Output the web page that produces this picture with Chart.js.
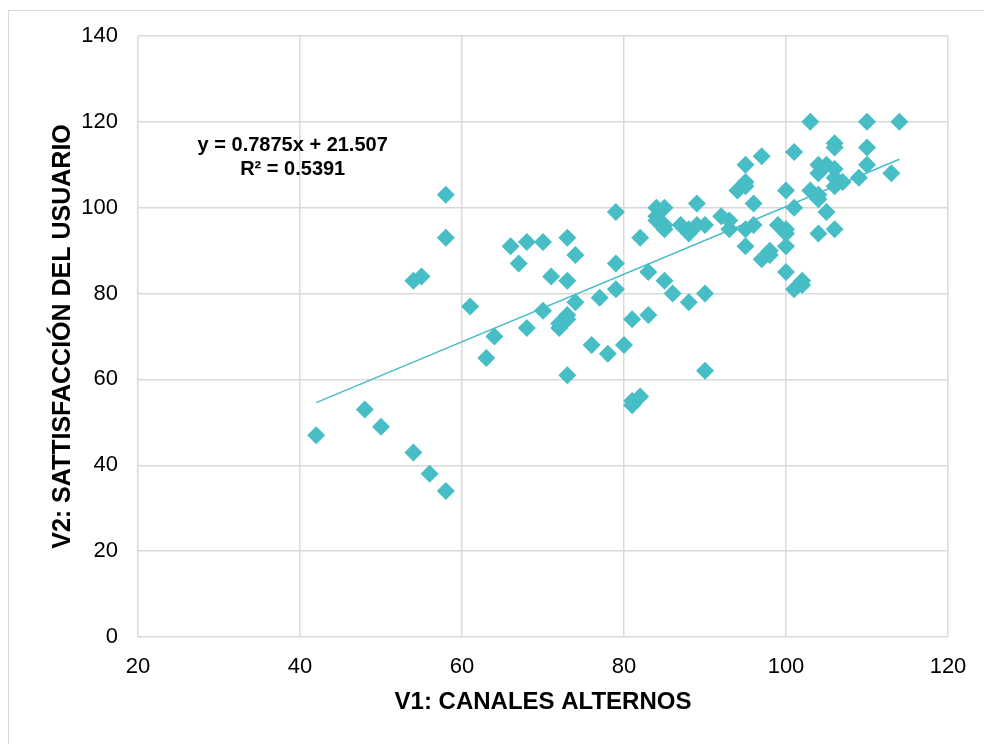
<!DOCTYPE html>
<html>
<head>
<meta charset="utf-8">
<title>V1 vs V2</title>
<script src="https://cdn.jsdelivr.net/npm/chart.js@4.4.1/dist/chart.umd.min.js"></script>
<style>
  html, body { margin: 0; padding: 0; background: #fff; }
  #frame {
    position: absolute; left: 8px; top: 10px; width: 990px; height: 750px;
    border: 1px solid #d9d9d9; box-sizing: border-box;
  }
  #wrap { position: absolute; left: 0; top: 0; width: 984px; height: 744px; }
</style>
</head>
<body>
<div id="frame"></div>
<div id="wrap"><canvas id="scatterChart" width="984" height="744"></canvas></div>
<script>
// V1: canales alternos (x) / V2: satisfacción del usuario (y)
const canalesAlternos = [
  42, 48, 50, 54, 56, 58, 54, 55, 58, 58,
  61, 63, 64, 66, 67, 68, 68, 70, 70, 71,
  72, 72, 73, 73, 73, 73, 73, 74, 74, 76,
  77, 78, 79, 79, 79, 80, 81, 81, 81, 82,
  82, 83, 83, 84, 85, 84, 84, 85, 85, 85,
  86, 87, 88, 88, 89, 88, 89, 90, 90, 90,
  92, 93, 93, 94, 95, 95, 95, 95, 95, 96,
  96, 97, 97, 98, 98, 99, 100, 100, 100, 100,
  100, 101, 101, 101, 102, 102, 103, 103, 104, 104,
  104, 104, 104, 105, 105, 106, 106, 106, 106, 106,
  107, 106, 109, 110, 110, 110, 113, 114
];
const satisfaccion = [
  47, 53, 49, 43, 38, 34, 83, 84, 103, 93,
  77, 65, 70, 91, 87, 92, 72, 92, 76, 84,
  72, 73, 74, 75, 93, 83, 61, 89, 78, 68,
  79, 66, 99, 87, 81, 68, 74, 54, 55, 56,
  93, 85, 75, 100, 100, 98, 97, 96, 95, 83,
  80, 96, 95, 94, 96, 78, 101, 96, 80, 62,
  98, 97, 95, 104, 105, 106, 110, 95, 91, 101,
  96, 112, 88, 89, 90, 96, 95, 94, 104, 91,
  85, 113, 100, 81, 82, 83, 120, 104, 110, 108,
  103, 102, 94, 110, 99, 115, 114, 109, 107, 105,
  106, 95, 107, 120, 114, 110, 108, 120
];

// línea de tendencia lineal (extremos)
const trendX = [42, 114];
const trendY = [54.6, 111.3];

const xTicks = [20, 40, 60, 80, 100, 120];
const yTicks = [0, 20, 40, 60, 80, 100, 120, 140];

const teal = "#47bdc6";
const gridGrey = "#d9d9d9";
const fontFamily = "'Liberation Sans', Arial, sans-serif";

const points = canalesAlternos.map((x, i) => ({ x: x, y: satisfaccion[i] }));
const trend = trendX.map((x, i) => ({ x: x, y: trendY[i] }));

const equationLabel = {
  id: "equationLabel",
  afterDatasetsDraw(chart) {
    const { ctx, scales } = chart;
    const cx = scales.x.getPixelForValue(39.1);
    const cy = scales.y.getPixelForValue(114.4);
    ctx.save();
    ctx.fillStyle = "#000";
    ctx.font = "bold 20px " + fontFamily;
    ctx.textAlign = "center";
    ctx.textBaseline = "middle";
    ctx.fillText("y = 0.7875x + 21.507", cx, cy);
    ctx.fillText("R\u00b2 = 0.5391", cx, cy + 24);
    ctx.restore();
  },
};

new Chart(document.getElementById("scatterChart"), {
  type: "scatter",
  data: {
    datasets: [
      {
        label: "V2",
        data: points,
        pointStyle: "rectRot",
        pointRadius: 9,
        pointHoverRadius: 9,
        backgroundColor: teal,
        borderColor: teal,
        borderWidth: 0,
        order: 1,
      },
      {
        label: "Lineal",
        type: "line",
        data: trend,
        borderColor: teal,
        borderWidth: 1.5,
        pointRadius: 0,
        fill: false,
        order: 2,
      },
    ],
  },
  options: {
    responsive: false,
    animation: false,
    events: [],
    layout: {
      padding: { left: 48, top: 36, right: 36, bottom: 27.6 },
    },
    plugins: {
      legend: { display: false },
      tooltip: { enabled: false },
    },
    scales: {
      x: {
        type: "linear",
        min: xTicks[0],
        max: xTicks[xTicks.length - 1],
        afterBuildTicks: (scale) => {
          scale.ticks = xTicks.map((v) => ({ value: v }));
        },
        afterFit: (scale) => {
          scale.height = 79.4;
        },
        grid: { color: gridGrey, lineWidth: 1.5, drawTicks: false },
        border: { display: false },
        ticks: {
          color: "#000",
          padding: 17,
          font: { family: fontFamily, size: 22 },
        },
        title: {
          display: true,
          text: "V1: CANALES ALTERNOS",
          color: "#000",
          padding: 0,
          font: { family: fontFamily, size: 24, weight: "bold" },
        },
      },
      y: {
        type: "linear",
        min: yTicks[0],
        max: yTicks[yTicks.length - 1],
        afterBuildTicks: (scale) => {
          scale.ticks = yTicks.map((v) => ({ value: v }));
        },
        afterFit: (scale) => {
          scale.width = 90;
        },
        grid: { color: gridGrey, lineWidth: 1.5, drawTicks: false },
        border: { display: false },
        ticks: {
          color: "#000",
          padding: 20,
          font: { family: fontFamily, size: 22 },
        },
        title: {
          display: true,
          text: "V2: SATTISFACCIÓN DEL USUARIO",
          color: "#000",
          padding: 0,
          font: { family: fontFamily, size: 25, weight: "bold" },
        },
      },
    },
  },
  plugins: [equationLabel],
});
</script>
</body>
</html>
